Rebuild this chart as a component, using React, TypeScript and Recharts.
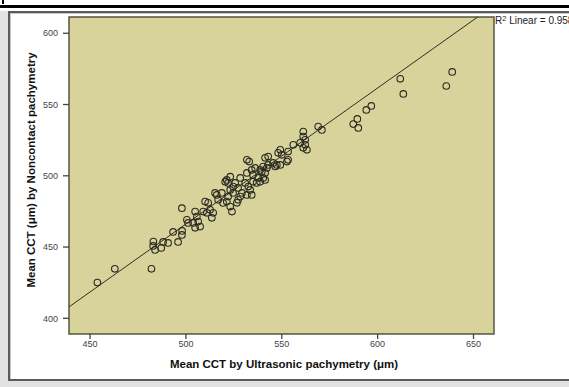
// Scatter of mean CCT: ultrasonic vs noncontact pachymetry, with a linear fit line.
import React from "react";
import {
  CartesianGrid, ReferenceArea, ReferenceLine, Scatter, ScatterChart, XAxis, YAxis,
} from "recharts";

const FONT = "Arial, 'Liberation Sans', sans-serif";
const PLOT_BG = "#d8d39b";

// values (µm)
const ultrasonic = [
  453.8, 462.9, 482.0, 483.0, 482.9, 483.9, 487.1, 488.1, 490.7, 495.9,
  493.3, 498.0, 497.9, 497.9, 500.5, 501.1, 503.8, 504.8, 505.7, 506.4,
  507.4, 504.8, 509.0, 510.9, 512.6, 514.2, 513.5, 510.0, 511.6, 515.2,
  516.1, 516.8, 518.7, 519.4, 521.3, 522.0, 523.1, 522.0, 521.3, 523.1,
  525.7, 527.2, 524.6, 528.3, 526.6, 523.1, 524.0, 528.3, 531.8, 532.5,
  531.8, 520.5, 524.6, 527.2, 531.8, 533.0, 534.3, 535.0, 530.9, 535.0,
  536.9, 537.7, 541.3, 533.5, 529.2, 538.7, 536.1, 534.3, 538.7, 540.3,
  541.3, 542.2, 542.9, 539.6, 540.3, 545.5, 547.4, 549.2, 552.7, 541.3,
  542.9, 549.2, 548.1, 550.0, 553.3, 553.3, 556.0, 559.6, 546.6, 561.2,
  561.2, 562.2, 562.2, 561.2, 563.1, 569.0, 570.9, 587.3, 589.9, 589.4,
  594.1, 596.7, 611.8, 613.4, 635.8, 638.9,
];
const noncontact = [
  425.1, 434.7, 434.7, 453.9, 450.8, 448.0, 449.4, 453.6, 452.9, 453.6,
  460.6, 461.3, 458.5, 477.3, 469.1, 466.9, 466.9, 474.9, 471.4, 467.9,
  464.4, 463.5, 474.9, 474.0, 476.1, 474.0, 470.5, 481.9, 481.0, 488.0,
  486.6, 483.1, 488.0, 480.9, 481.9, 485.4, 490.1, 495.0, 497.1, 499.4,
  495.0, 491.5, 488.0, 485.4, 481.0, 478.4, 474.9, 498.5, 502.0, 492.4,
  486.6, 495.9, 492.4, 483.1, 511.2, 510.0, 504.1, 500.6, 495.0, 495.9,
  495.0, 498.5, 497.1, 490.1, 488.0, 504.1, 505.5, 486.6, 495.9, 498.5,
  502.0, 505.5, 507.6, 503.0, 506.5, 509.0, 507.6, 507.6, 510.0, 512.6,
  513.5, 518.2, 516.1, 514.7, 517.0, 511.2, 521.7, 523.1, 506.5, 531.0,
  527.5, 525.2, 521.7, 519.6, 518.2, 534.5, 532.2, 536.3, 533.6, 539.9,
  546.2, 549.0, 568.0, 557.4, 563.0, 572.9,
];
const xTicks = [450, 500, 550, 600, 650];
const yTicks = [400, 450, 500, 550, 600];

const X_MIN = 439, X_MAX = 660.7;
const Y_MIN = 389, Y_MAX = 611.4;
const FIT_SLOPE = 0.954;
const FIT_INTERCEPT = -10.8;
const R2 = "0.958";

const points = ultrasonic.map((x, i) => ({ x, y: noncontact[i] }));
// fit line from left edge until it leaves through the top
const fitEnd = Math.min(X_MAX, (Y_MAX - FIT_INTERCEPT) / FIT_SLOPE);
const fitSegment = [
  { x: X_MIN, y: FIT_SLOPE * X_MIN + FIT_INTERCEPT },
  { x: fitEnd, y: FIT_SLOPE * fitEnd + FIT_INTERCEPT },
];

const Ring = (p: any) => (
  <circle cx={p.cx} cy={p.cy} r={3.3} fill="none" stroke="#2a2a22" strokeWidth={1.1} />
);

export default function App() {
  return (
    <div style={{ position: "absolute", left: 0, top: 0, width: 569, height: 387, background: "#fff", overflow: "hidden", fontFamily: FONT }}>
      <div style={{ position: "absolute", left: 2, top: 0, width: 2, height: 4, background: "#000" }} />
      <div style={{ position: "absolute", left: 0, top: 5, width: 569, height: 3, background: "#000" }} />
      <div style={{ position: "absolute", left: 0, top: 11, width: 569, height: 376, background: "#e2e2e2" }} />
      <div style={{
        position: "absolute", left: 8, top: 11, width: 580, height: 366, background: "#fff",
        border: "2px solid #5a5a5a", boxShadow: "inset 1px 1px 0 #c8c8c8",
      }} />
      <div style={{ position: "absolute", left: 0, top: 0 }}>
        <ScatterChart width={569} height={387} margin={{ top: 17, right: 75, bottom: 0, left: 0 }}>
          <CartesianGrid horizontal={false} vertical={false} fill={PLOT_BG} fillOpacity={1} />
          <XAxis type="number" dataKey="x" domain={[X_MIN, X_MAX]} ticks={xTicks} allowDataOverflow
            height={53} axisLine={false} tickSize={5} tickMargin={2}
            tickLine={{ stroke: "#444", strokeWidth: 1.3 }}
            tick={{ fontSize: 9, fill: "#444", fontFamily: FONT }} />
          <YAxis type="number" dataKey="y" domain={[Y_MIN, Y_MAX]} ticks={yTicks} allowDataOverflow
            width={69} axisLine={false} tickSize={6} tickMargin={5}
            tickLine={{ stroke: "#444", strokeWidth: 1.3 }}
            tick={{ fontSize: 9, fill: "#444", fontFamily: FONT }} />
          <ReferenceLine segment={fitSegment} stroke="#2e2e22" strokeWidth={1} ifOverflow="visible" />
          <Scatter data={points} shape={Ring} isAnimationActive={false} />
          <ReferenceArea x1={X_MIN} x2={X_MAX} y1={Y_MIN} y2={Y_MAX} fill="none"
            stroke="#55553f" strokeWidth={1.5} ifOverflow="visible" />
        </ScatterChart>
      </div>
      <svg width={569} height={387} style={{ position: "absolute", left: 0, top: 0, pointerEvents: "none" }}>
        <text x={284} y={368} textAnchor="middle" fontSize={11.5} fontWeight="bold" fill="#111" fontFamily={FONT}>
          Mean CCT by Ultrasonic pachymetry (μm)
        </text>
        <text transform="translate(35 170) rotate(-90)" textAnchor="middle" fontSize={11.5} fontWeight="bold" fill="#111" fontFamily={FONT}>
          Mean CCT (μm) by Noncontact pachymetry
        </text>
        <text x={495} y={24} fontSize={10} fill="#222" fontFamily={FONT}>
          R<tspan dy={-3.5} fontSize={7.5}>2</tspan><tspan dy={3.5}> Linear = {R2}</tspan>
        </text>
      </svg>
    </div>
  );
}
